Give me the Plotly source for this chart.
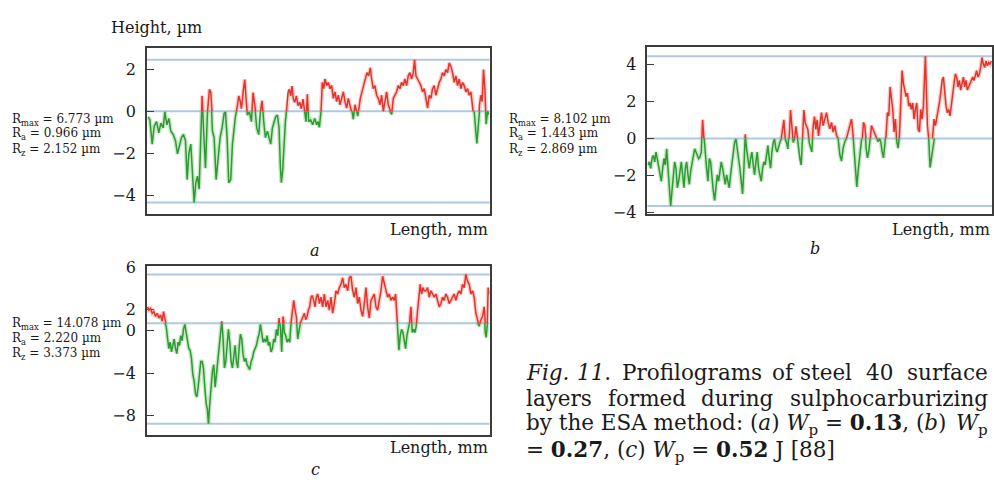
import plotly.graph_objects as go

W, H = 994, 483

# ---------------- profile data ----------------
# position along the trace (arbitrary length units) and surface height, µm

# (a) Wp = 0.13 J
pos_a = [4, 9, 16, 22, 29, 36, 42, 49, 54, 60, 66, 72, 79, 86, 92, 98, 104, 110, 116, 121,
         126, 132, 136, 142, 147, 152, 157, 162, 166, 170, 176, 182, 188, 192, 197, 202, 208, 214, 220, 226,
         232, 236, 241, 246, 252, 257, 262, 266, 272, 276, 280, 284, 290, 294, 298, 302, 308, 314, 319, 324,
         330, 336, 341, 346, 351, 356, 362, 367, 372, 377, 382, 387, 392, 397, 401, 404, 408, 412, 416, 420,
         424, 428, 432, 436, 440, 444, 449, 454, 459, 464, 469, 474, 478, 482, 486, 492, 498, 504, 510, 514,
         518, 523, 527, 531, 535, 540, 545, 550, 555, 560, 565, 570, 575, 580, 585, 590, 595, 600, 605, 610,
         615, 620, 625, 630, 633, 637, 641, 646, 651, 656, 661, 666, 671, 675, 680, 685, 690, 695, 700, 705,
         710, 715, 720, 725, 730, 735, 740, 745, 750, 755, 760, 765, 770, 775, 780, 785, 790, 795, 800, 804,
         808, 813, 818, 823, 828, 833, 838, 843, 848, 853, 858, 863, 868, 873, 878, 883, 888, 893, 898, 903,
         908, 913, 918, 923, 928, 933, 938, 943, 948, 953, 958, 963, 968, 973, 978, 983, 987, 991, 995, 999,
         1003, 1007, 1011, 1015, 1019, 1023, 1027]
height_a = [-0.26, -0.41, -1.56, -0.72, -0.49, -1.02, -0.56, -0.79, -0.03, -0.64,
            -0.34, -0.95, -1.10, -1.40, -2.02, -1.56, -1.25, -1.10, -1.40, -3.24,
            -2.02, -1.56, -2.78, -4.33, -3.39, -3.08, -3.69, -1.56, 0.73, -0.79,
            -2.70, -0.03, 1.04, 0.89, -0.95, -1.25, -3.24, -2.17, -1.25, -0.79,
            -0.11, -0.03, -1.25, -3.39, -3.24, -1.56, -0.64, -0.26, 0.27, 0.73,
            0.50, 0.12, 1.04, 1.50, 0.58, -0.18, -0.03, -0.49, 0.89, 0.27,
            -0.79, -1.10, -0.03, 0.50, -0.49, -1.25, -0.95, -1.25, -1.56, -0.79,
            -0.49, -0.26, -0.18, -0.79, -2.63, -3.39, -2.78, -1.40, -0.49, 0.12,
            0.89, 1.04, 0.73, 1.19, 0.58, 0.43, 0.73, 0.27, 0.43, 0.12,
            0.58, -0.03, -0.49, 0.81, -0.49, -0.41, -0.64, -0.34, -0.64, -0.49,
            -0.76, 0.00, 1.37, 1.07, 1.53, 1.22, 1.37, 1.07, 1.22, 0.61,
            0.92, 0.46, 0.76, 0.31, 0.61, 0.92, 0.46, 0.15, 0.61, 0.31,
            0.15, -0.38, 0.31, 0.00, -0.23, 0.15, 0.61, 0.92, 1.22, 1.53,
            1.83, 1.68, 2.06, 1.53, 1.07, 1.22, 0.76, 0.61, 0.31, 0.76,
            0.00, 0.46, 0.92, 0.31, 0.00, -0.15, 0.61, 0.76, 0.92, 1.22,
            1.07, 1.37, 1.22, 1.53, 1.22, 1.68, 1.83, 1.53, 1.83, 2.44,
            1.68, 1.53, 1.37, 1.22, 0.92, 1.07, 0.61, 0.15, 0.76, 0.61,
            1.07, 1.22, 0.76, 1.07, 1.37, 1.53, 1.83, 1.68, 1.98, 1.83,
            2.29, 2.14, 1.83, 1.37, 1.68, 1.22, 1.53, 1.07, 1.37, 1.22,
            0.92, 1.07, 0.76, 0.92, 0.46, 0.00, -0.76, -1.53, -0.76, 0.31,
            0.76, 0.46, 1.98, 1.07, -0.61, 0.00, -0.15]

# (b) Wp = 0.27 J
pos_b = [2, 6, 10, 14, 18, 22, 26, 30, 34, 38, 42, 46, 50, 54, 58, 62, 66, 70, 74, 78,
         82, 86, 90, 94, 98, 102, 106, 110, 114, 118, 122, 126, 130, 134, 138, 142, 146, 150, 154, 158,
         162, 166, 170, 174, 178, 182, 186, 190, 194, 198, 202, 206, 210, 214, 218, 222, 226, 230, 234, 238,
         242, 246, 250, 254, 258, 262, 266, 270, 274, 278, 282, 286, 290, 294, 298, 302, 306, 310, 314, 318,
         322, 326, 330, 334, 338, 342, 346, 350, 354, 358, 362, 366, 370, 374, 378, 382, 386, 390, 394, 398,
         402, 406, 410, 414, 418, 422, 426, 430, 434, 438, 442, 446, 450, 454, 458, 462, 466, 470, 474, 478,
         482, 486, 490, 494, 498, 502, 506, 510, 514,
         518, 523, 528, 533, 538, 543, 548, 553, 558, 563, 568, 573, 578, 583, 588, 593, 598, 603, 608, 613,
         617, 621, 625, 629, 633, 637, 641, 645, 649, 653, 657, 661, 665, 669, 673, 677, 681, 685, 689, 693,
         697, 701, 705, 709, 713, 717, 721, 725, 729, 733, 737, 741, 745, 749, 753, 757, 761, 765, 769, 773,
         777, 781, 785, 789, 793, 797, 801, 805, 809, 813, 817, 821, 825, 829, 833, 835, 838, 841,
         845, 849, 853, 857, 861, 865, 869, 873, 877, 881, 885, 889, 893, 897, 901, 905, 909, 913, 917, 921,
         925, 929, 933, 937, 941, 945, 949, 953, 957, 961, 965, 969, 973, 977, 981, 985, 989, 993, 997, 1001,
         1005, 1009, 1013, 1017, 1021, 1025, 1029, 1033]
height_b = [-1.43, -1.26, -1.61, -1.08, -0.91, -1.26, -0.73, -1.08, -1.61, -1.96,
            -2.31, -1.61, -1.08, -1.43, -0.56, -1.61, -3.00, -3.65, -2.83, -1.96,
            -1.26, -1.61, -2.66, -2.31, -1.78, -1.26, -1.96, -2.66, -1.61, -1.26,
            -1.96, -2.48, -1.78, -1.43, -0.91, -0.56, -0.73, -0.91, -1.08, -1.00,
            -0.73, 1.01, -0.03, -0.73, -1.61, -2.31, -1.08, -1.26, -2.31, -2.83,
            -3.35, -2.48, -1.96, -2.31, -1.78, -1.26, -1.61, -2.13, -2.48, -1.96,
            -2.31, -2.66, -1.96, -1.26, -0.56, -0.21, -0.03, -0.73, -1.08, -1.61,
            -2.31, -3.00, -1.61, 0.23, -0.56, -1.08, -1.61, -1.08, -0.73, -1.43,
            -1.96, -1.26, -0.73, -1.61, -1.96, -2.31, -1.61, -1.26, -1.43, -0.91,
            -0.38, -1.08, -1.61, -0.73, -0.21, -0.03, -0.56, -0.73, -0.38, -0.21,
            -0.03, 0.49, 1.01, -0.03, -0.21, -0.56, 0.14, 1.54, 0.66, -0.21,
            -0.03, 0.66, 0.14, -0.56, -1.08, -1.43, -0.03, 1.54, 0.84, 0.66,
            0.49, -0.21, -0.56, -0.73, 0.66, 1.19, 0.49, 1.01, 0.14,
            0.87, 1.40, 0.70, 1.05, 1.40, 0.87, 0.52, 0.87, 0.35, 0.70,
            0.17, 0.00, -0.87, -1.22, -0.52, -0.17, 0.00, 0.35, 0.70, 1.05,
            0.35, -0.52, -1.57, -2.62, -1.75, -1.22, -0.87, -0.17, 0.87, 0.70,
            -0.52, -1.05, -0.70, -0.17, 0.70, 0.52, 0.35, 0.17, 0.00, -0.17,
            0.00, -0.17, -0.70, -1.05, -0.35, 0.17, 1.40, 1.22, 2.79, 2.27,
            1.57, 0.35, 1.05, -0.17, -0.52, 0.17, 1.57, 3.67, 2.97, 2.62,
            2.27, 2.45, 1.75, 1.92, 1.57, 1.92, 1.05, 1.57, 1.92, 0.52,
            0.35, 1.57, 1.05, 1.75, 3.49, 4.45, 2.62, 0.70,
            0.00, -1.57, -0.70, 0.17, 1.05, 0.70, 1.05, 1.57, 1.92, 2.45,
            3.14, 3.32, 2.27, 1.75, 1.40, 1.57, 1.22, 1.92, 2.45, 2.97,
            3.49, 3.32, 2.79, 3.14, 2.62, 2.97, 3.32, 2.79, 3.14, 2.62,
            2.79, 2.97, 3.14, 3.32, 3.14, 3.49, 3.67, 3.32, 3.49, 3.84,
            4.37, 4.02, 3.84, 4.19, 3.93, 4.10, 4.02, 4.19]

# (c) Wp = 0.52 J
pos_c = [2, 6, 11, 16, 21, 26, 31, 36, 41, 46, 50, 54, 58, 62, 66, 70, 74, 78, 82, 86,
         90, 94, 98, 102, 106, 110, 114, 118, 122, 126, 130, 134, 138, 142, 146, 150, 154, 158, 162, 166,
         170, 174, 178, 182, 185, 189, 193, 197, 201, 205, 209, 213, 217, 221, 225, 229, 233, 237, 241, 245,
         249, 253, 257, 261, 265, 269, 273, 277, 281, 285, 289, 293, 297, 301, 305, 309, 313, 317, 321, 325,
         329, 333, 337, 341, 345, 349, 353, 357, 361, 365, 369, 373, 377, 381, 385, 389, 393, 397, 401, 405,
         409, 413, 417, 421, 425, 429, 433, 437, 441, 445, 449, 453, 457, 461, 465, 469, 473, 477, 481, 485,
         489, 493, 497, 501, 505, 509, 513, 517,
         518, 523, 528, 533, 538, 543, 548, 553, 558, 563, 568, 573, 578, 583, 588, 593, 598, 603, 608, 613,
         618, 623, 628, 633, 638, 643, 648, 653, 658, 663, 668, 673, 678, 683, 688, 693, 698, 703, 708, 713,
         718, 723, 728, 733, 738, 743, 747, 751, 754, 757, 761, 765, 769, 773, 777, 781, 785, 789, 793, 797,
         801, 805, 809, 813, 817, 821, 825, 829, 833, 838, 843, 848, 853, 858, 863, 868, 873, 878, 883, 888,
         893, 898, 903, 908, 913, 918, 923, 928, 933, 938, 943, 948, 953, 958, 963, 968, 973, 978, 983, 988,
         993, 998, 1003, 1008, 1013, 1016, 1019, 1022, 1025, 1028]
height_c = [2.24, 1.94, 2.09, 1.64, 1.79, 1.33, 1.64, 1.18, 1.48, 0.88,
            1.79, 0.73, 0.42, -0.79, -1.70, -1.09, -2.00, -1.39, -0.79, -1.70,
            -2.15, -1.09, -1.39, -0.48, -0.94, 0.12, 0.58, -0.18, -1.09, -1.70,
            -1.85, -2.61, -4.12, -4.73, -5.94, -6.24, -5.33, -3.82, -2.91, -2.91,
            -3.52, -5.33, -6.85, -7.45, -8.78, -6.85, -5.03, -3.82, -3.21, -5.33,
            -4.12, -2.91, -1.09, 0.12, 0.88, -0.79, -3.52, -2.91, -1.70, 0.12,
            -1.09, -2.91, -3.52, -2.30, -1.39, -2.91, -3.52, -1.70, -0.33, -0.79,
            -2.30, -2.91, -2.61, -3.21, -3.52, -3.67, -2.91, -2.61, -2.00, -1.70,
            -1.39, -0.79, -0.33, 0.58, -0.18, -1.09, -0.79, -1.09, -0.48, -1.39,
            -1.09, -2.00, -1.70, -0.79, -1.09, 0.12, -0.48, 1.18, 0.42, -2.00,
            1.33, -0.18, -0.48, -1.09, -0.79, -1.09, 0.73, 1.64, 2.85, 1.94,
            1.33, -0.79, 0.12, 0.73, 1.03, 1.33, 1.64, 1.03, 1.33, 1.94,
            2.24, 3.15, 3.30, 2.85, 2.24, 3.15, 3.45, 2.85,
            2.55, 3.15, 2.24, 3.45, 2.24, 2.85, 1.94, 3.15, 1.64, 2.55,
            3.76, 3.45, 4.06, 4.36, 4.97, 4.06, 4.36, 3.76, 4.97, 5.12,
            3.76, 3.15, 4.06, 2.55, 3.15, 1.94, 1.33, 2.55, 4.06, 2.24,
            1.18, 2.85, 3.15, 3.45, 2.24, 1.94, 2.85, 3.76, 5.12, 4.36,
            3.76, 3.15, 3.45, 2.85, 3.15, 2.85, 3.45, 1.33, 0.12, -1.85,
            -0.48, 0.12, -0.18, -1.09, -1.70, -0.48, 0.12, 0.73, 2.24, -0.18,
            0.12, -0.18, 0.42, 1.94, 3.15, 4.36, 3.45, 4.06, 3.76, 3.76,
            4.06, 3.15, 3.76, 3.45, 3.15, 3.45, 2.85, 2.24, 2.55, 3.15,
            2.85, 3.45, 3.15, 2.55, 2.85, 3.15, 3.45, 2.85, 3.45, 3.76,
            3.45, 4.36, 4.06, 5.30, 4.67, 4.36, 3.45, 3.76, 3.15, 1.64,
            0.73, 0.42, 1.03, 1.33, 2.24, -0.18, -0.64, 0.42, 4.06, 3.45]

# roughness parameters printed beside each profile, µm
rough_a = {"max": "6.773", "a": "0.966", "z": "2.152"}
rough_b = {"max": "8.102", "a": "1.443", "z": "2.869"}
rough_c = {"max": "14.078", "a": "2.220", "z": "3.373"}

# mean line of each profile, µm
mean_a, mean_b, mean_c = 0.0, 0.0, 0.7

# y tick values shown on each panel
ticks_a = [-4, -2, 0, 2]
ticks_b = [-4, -2, 0, 2, 4]
ticks_c = [-8, -4, 0, 2, 6]

# ---------------- styling ----------------
SERIF = "DejaVu Serif"
RED = "#e2342b"
GREEN = "#2f9a35"
BLUE = "#b1c8e3"
FRAME = "#3c3c3c"

panels = [
    dict(pos=pos_a, h=height_a, mean=mean_a, ticks=ticks_a, yr=(-4.85, 3.02), xr=(0, 1029),
         box=(147, 490, 40, 212)),
    dict(pos=pos_b, h=height_b, mean=mean_b, ticks=ticks_b, yr=(-4.08, 4.95), xr=(0, 1035),
         box=(648, 993, 39.3, 212.5)),
    dict(pos=pos_c, h=height_c, mean=mean_c, ticks=ticks_c, yr=(-9.85, 6.06), xr=(0, 1029),
         box=(147, 490, 266.7, 441.7)),
]


def px(x):
    return x / W


def py(y):
    return 1 - y / H


def ax_name(kind, k):
    return kind if k == 1 else f"{kind}{k}"


fig = go.Figure()
layout = {}
shapes = []

for i, p in enumerate(panels):
    xk = i + 1
    yf, yu, yl = 3 * i + 1, 3 * i + 2, 3 * i + 3
    x0, x1, top, bot = p["box"]
    lo, hi = p["yr"]
    y_top, y_bot = py(top), py(bot)
    y_mid = y_bot + (p["mean"] - lo) / (hi - lo) * (y_top - y_bot)

    xref = ax_name("x", xk)
    layout[ax_name("xaxis", xk)] = dict(
        domain=[px(x0), px(x1)], range=list(p["xr"]), anchor=ax_name("y", yf),
        showline=True, mirror=True, linecolor=FRAME, linewidth=1.6,
        showticklabels=False, ticks="", showgrid=False, zeroline=False, fixedrange=True)
    layout[ax_name("yaxis", yf)] = dict(
        domain=[y_bot, y_top], range=[lo, hi], anchor=xref,
        showline=True, mirror=True, linecolor=FRAME, linewidth=1.6,
        ticks="inside", ticklen=7, tickwidth=1.4, tickcolor=FRAME,
        tickvals=p["ticks"], ticklabelstandoff=6,
        tickfont=dict(family=SERIF, size=16, color="#1a1a1a"),
        showgrid=False, zeroline=False, fixedrange=True)
    # upper half (above the mean line) and lower half, used to colour the profile
    layout[ax_name("yaxis", yu)] = dict(domain=[y_mid, y_top], range=[p["mean"], hi],
                                        anchor=xref, visible=False, fixedrange=True)
    layout[ax_name("yaxis", yl)] = dict(domain=[y_bot, y_mid], range=[lo, p["mean"]],
                                        anchor=xref, visible=False, fixedrange=True)

    for yk, col, halo in ((yu, RED, "rgba(232,90,80,0.30)"),
                          (yl, GREEN, "rgba(120,200,110,0.42)")):
        fig.add_trace(go.Scatter(x=p["pos"], y=p["h"], mode="lines",
                                 line=dict(color=halo, width=4.2),
                                 xaxis=xref, yaxis=ax_name("y", yk),
                                 hoverinfo="skip", showlegend=False))
        fig.add_trace(go.Scatter(x=p["pos"], y=p["h"], mode="lines",
                                 line=dict(color=col, width=1.5),
                                 xaxis=xref, yaxis=ax_name("y", yk),
                                 showlegend=False))

    # peak line, mean line and valley line
    for level in (max(p["h"]), p["mean"], min(p["h"])):
        shapes.append(dict(type="line", xref=f"{xref} domain", x0=0, x1=1,
                           yref=ax_name("y", yf), y0=level, y1=level,
                           line=dict(color=BLUE, width=2), layer="below"))

ann = []


def text(x, y, s, size=16, xa="left", ya="middle"):
    ann.append(dict(x=px(x), y=py(y), xref="paper", yref="paper", text=s,
                    showarrow=False, xanchor=xa, yanchor=ya,
                    font=dict(family=SERIF, size=size, color="#1a1a1a")))


text(157, 19, "Height, µm", xa="center")

for (lx, ly), r in (((10, 115), rough_a), ((508, 115), rough_b), ((10, 327), rough_c)):
    text(lx, ly, f"R<sub>max</sub> = {r['max']} µm", size=12)
    text(lx, ly + 15, f"R<sub>a</sub> = {r['a']} µm", size=12)
    text(lx, ly + 31, f"R<sub>z</sub> = {r['z']} µm", size=12)

text(490, 229, "Length, mm", xa="right")
text(993, 229, "Length, mm", xa="right")
text(490, 455, "Length, mm", xa="right")

text(315, 250, "<i>a</i>", xa="center")
text(816, 248, "<i>b</i>", xa="center")
text(316, 477, "<i>c</i>", xa="center")

# caption, set justified between x = 525 and x = 991
CAP = 21.5
for word, wx in (("<i>Fig.</i>", 525), ("<i>11</i>.", 576), ("Profilograms", 621),
                 ("of", 771), ("steel", 799), ("40", 865)):
    text(wx, 377, word, size=CAP)
text(991, 377, "surface", size=CAP, xa="right")
for word, wx in (("layers", 525), ("formed", 607), ("during", 700)):
    text(wx, 404, word, size=CAP)
text(991, 404, "sulphocarburizing", size=CAP, xa="right")
text(525, 431, "by the ESA method: (<i>a</i>) <i>W</i><sub>p</sub> = <b>0.13</b>, (<i>b</i>)",
     size=CAP)
text(991, 431, "<i>W</i><sub>p</sub>", size=CAP, xa="right")
text(525, 459, "= <b>0.27</b>, (<i>c</i>) <i>W</i><sub>p</sub> = <b>0.52</b> J [88]", size=CAP)

fig.update_layout(
    width=W, height=H, autosize=False,
    margin=dict(l=0, r=0, t=0, b=0),
    paper_bgcolor="white", plot_bgcolor="rgba(0,0,0,0)",
    shapes=shapes, annotations=ann, showlegend=False,
    **layout)

fig.write_html("out.html")
